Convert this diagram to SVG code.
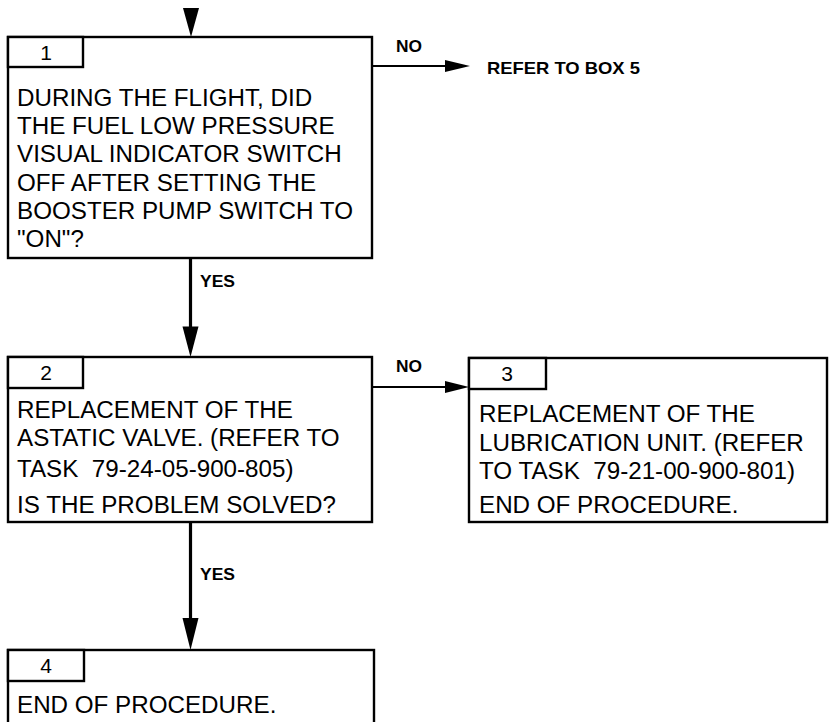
<svg xmlns="http://www.w3.org/2000/svg" width="829" height="722" viewBox="0 0 829 722">
<style>
.box{fill:#fff;stroke:#000;stroke-width:2.4}
.tab{fill:#fff;stroke:#000;stroke-width:2.4}
.t{font-family:"Liberation Sans",Arial,sans-serif;font-size:24.2px;fill:#000;white-space:pre}
.n{font-family:"Liberation Sans",Arial,sans-serif;font-size:21px;fill:#000;text-anchor:middle}
.lbl{font-family:"Liberation Sans",Arial,sans-serif;font-size:16.5px;font-weight:bold;fill:#000}
.thin{stroke:#000;stroke-width:1.8;fill:none}
.thick{stroke:#000;stroke-width:3.2;fill:none}
.head{fill:#000}
</style>
<rect width="829" height="722" fill="#fff"/>
<g id="connectors">
<polygon class="head" points="183,8 199,8 191,37"/>
<line class="thin" x1="372" y1="66" x2="448" y2="66"/>
<polygon class="head" points="445,60 470,66 445,72"/>
<text class="lbl" x="396" y="52" textLength="26" lengthAdjust="spacingAndGlyphs">NO</text>
<text class="lbl" x="487" y="74" textLength="153" lengthAdjust="spacingAndGlyphs">REFER TO BOX 5</text>
<line class="thick" x1="190.5" y1="258" x2="190.5" y2="330"/>
<polygon class="head" points="182.5,326.5 198.5,326.5 190.5,357"/>
<text class="lbl" x="200" y="287" textLength="35" lengthAdjust="spacingAndGlyphs">YES</text>
<line class="thin" x1="372" y1="387" x2="448" y2="387"/>
<polygon class="head" points="445,381 469,387 445,393"/>
<text class="lbl" x="396" y="372" textLength="26" lengthAdjust="spacingAndGlyphs">NO</text>
<line class="thick" x1="190.5" y1="522" x2="190.5" y2="622"/>
<polygon class="head" points="182.5,618 198.5,618 190.5,650"/>
<text class="lbl" x="200" y="580" textLength="35" lengthAdjust="spacingAndGlyphs">YES</text>
</g>
<g id="box1">
<rect class="box" x="8" y="37" width="364" height="221"/>
<rect class="tab" x="8" y="37" width="75" height="30"/>
<text class="n" x="46" y="60">1</text>
<text class="t" x="17" y="106">DURING THE FLIGHT, DID</text>
<text class="t" x="17" y="134.2">THE FUEL LOW PRESSURE</text>
<text class="t" x="17" y="162.4">VISUAL INDICATOR SWITCH</text>
<text class="t" x="17" y="190.6">OFF AFTER SETTING THE</text>
<text class="t" x="17" y="218.8">BOOSTER PUMP SWITCH TO</text>
<text class="t" x="17" y="247">"ON"?</text>
</g>
<g id="box2">
<rect class="box" x="8" y="357" width="364" height="165"/>
<rect class="tab" x="8" y="357" width="75" height="31"/>
<text class="n" x="46" y="380">2</text>
<text class="t" x="17" y="418">REPLACEMENT OF THE</text>
<text class="t" x="17" y="446">ASTATIC VALVE. (REFER TO</text>
<text class="t" x="17" y="477" xml:space="preserve">TASK  79-24-05-900-805)</text>
<text class="t" x="17" y="513">IS THE PROBLEM SOLVED?</text>
</g>
<g id="box3">
<rect class="box" x="469" y="358" width="358" height="164"/>
<rect class="tab" x="469" y="358" width="77" height="31"/>
<text class="n" x="507" y="381">3</text>
<text class="t" x="479" y="422">REPLACEMENT OF THE</text>
<text class="t" x="479" y="450.5">LUBRICATION UNIT. (REFER</text>
<text class="t" x="479" y="478.5" xml:space="preserve">TO TASK  79-21-00-900-801)</text>
<text class="t" x="479" y="513">END OF PROCEDURE.</text>
</g>
<g id="box4">
<rect class="box" x="8" y="650" width="366" height="100"/>
<rect class="tab" x="8" y="650" width="76" height="31"/>
<text class="n" x="46" y="673">4</text>
<text class="t" x="17" y="713">END OF PROCEDURE.</text>
</g>
</svg>
